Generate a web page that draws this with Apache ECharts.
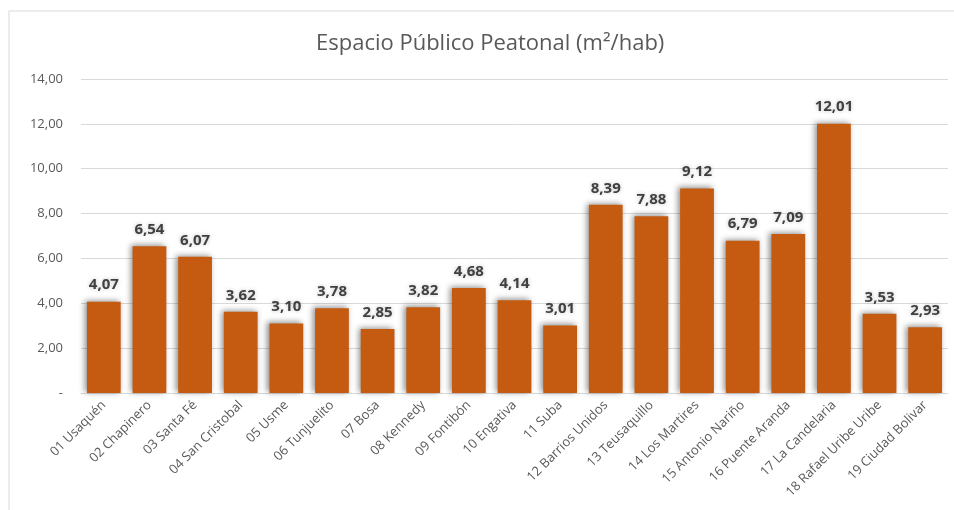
<!DOCTYPE html>
<html><head><meta charset="utf-8">
<script src="https://cdn.jsdelivr.net/npm/echarts@6/dist/echarts.min.js"></script>
<style>html,body{margin:0;padding:0;background:#fff}#c{width:954px;height:510px}</style>
</head><body><div id="c"></div>
<script>
const categories = ["01 Usaquén","02 Chapinero","03 Santa Fé","04 San Cristobal","05 Usme","06 Tunjuelito","07 Bosa","08 Kennedy","09 Fontibón","10 Engativa","11 Suba","12 Barrios Unidos","13 Teusaquillo","14 Los Martires","15 Antonio Nariño","16 Puente Aranda","17 La Candelaria","18 Rafael Uribe Uribe","19 Ciudad Bolivar"];
const values = [4.07,6.54,6.07,3.62,3.10,3.78,2.85,3.82,4.68,4.14,3.01,8.39,7.88,9.12,6.79,7.09,12.01,3.53,2.93];
const yTicks = [0,2,4,6,8,10,12,14];
const fmt = v => v === 0 ? '-' : v.toFixed(2).replace('.', ',');
const chart = echarts.init(document.getElementById('c'));
chart.setOption({
  animation:false,
  textStyle:{fontFamily:'Open Sans'},
  graphic:[{type:'rect',shape:{x:9,y:11,width:960,height:520},style:{fill:'none',stroke:'#d9d9d9',lineWidth:1},z:-1}],
  title:{text:'Espacio Público Peatonal (m²/hab)',left:311,top:28,textStyle:{fontFamily:'Open Sans',fontSize:22,fontWeight:'normal',color:'#595959'}},
  grid:{left:81,right:6,top:79,bottom:117},
  xAxis:{type:'category',data:categories,
    axisLine:{lineStyle:{color:'#d9d9d9'}},axisTick:{show:false},
    axisLabel:{rotate:45,interval:0,color:'#595959',fontSize:13,margin:10}},
  yAxis:{type:'value',min:yTicks[0],max:yTicks[yTicks.length-1],interval:2,
    axisLine:{show:false},axisTick:{show:false},
    splitLine:{lineStyle:{color:'#d9d9d9'}},
    axisLabel:{formatter:fmt,color:'#595959',fontSize:13,margin:18}},
  series:[{type:'bar',data:values,barWidth:'74%',
    itemStyle:{color:'#C55A11',shadowBlur:6,shadowColor:'rgba(0,0,0,0.45)',shadowOffsetX:-2,shadowOffsetY:-1},
    label:{show:true,position:'top',distance:9,formatter:p=>fmt(p.value),fontWeight:'bold',fontSize:15,color:'#404040',
      textShadowColor:'rgba(0,0,0,0.25)',textShadowBlur:4}}]
});
</script></body></html>
